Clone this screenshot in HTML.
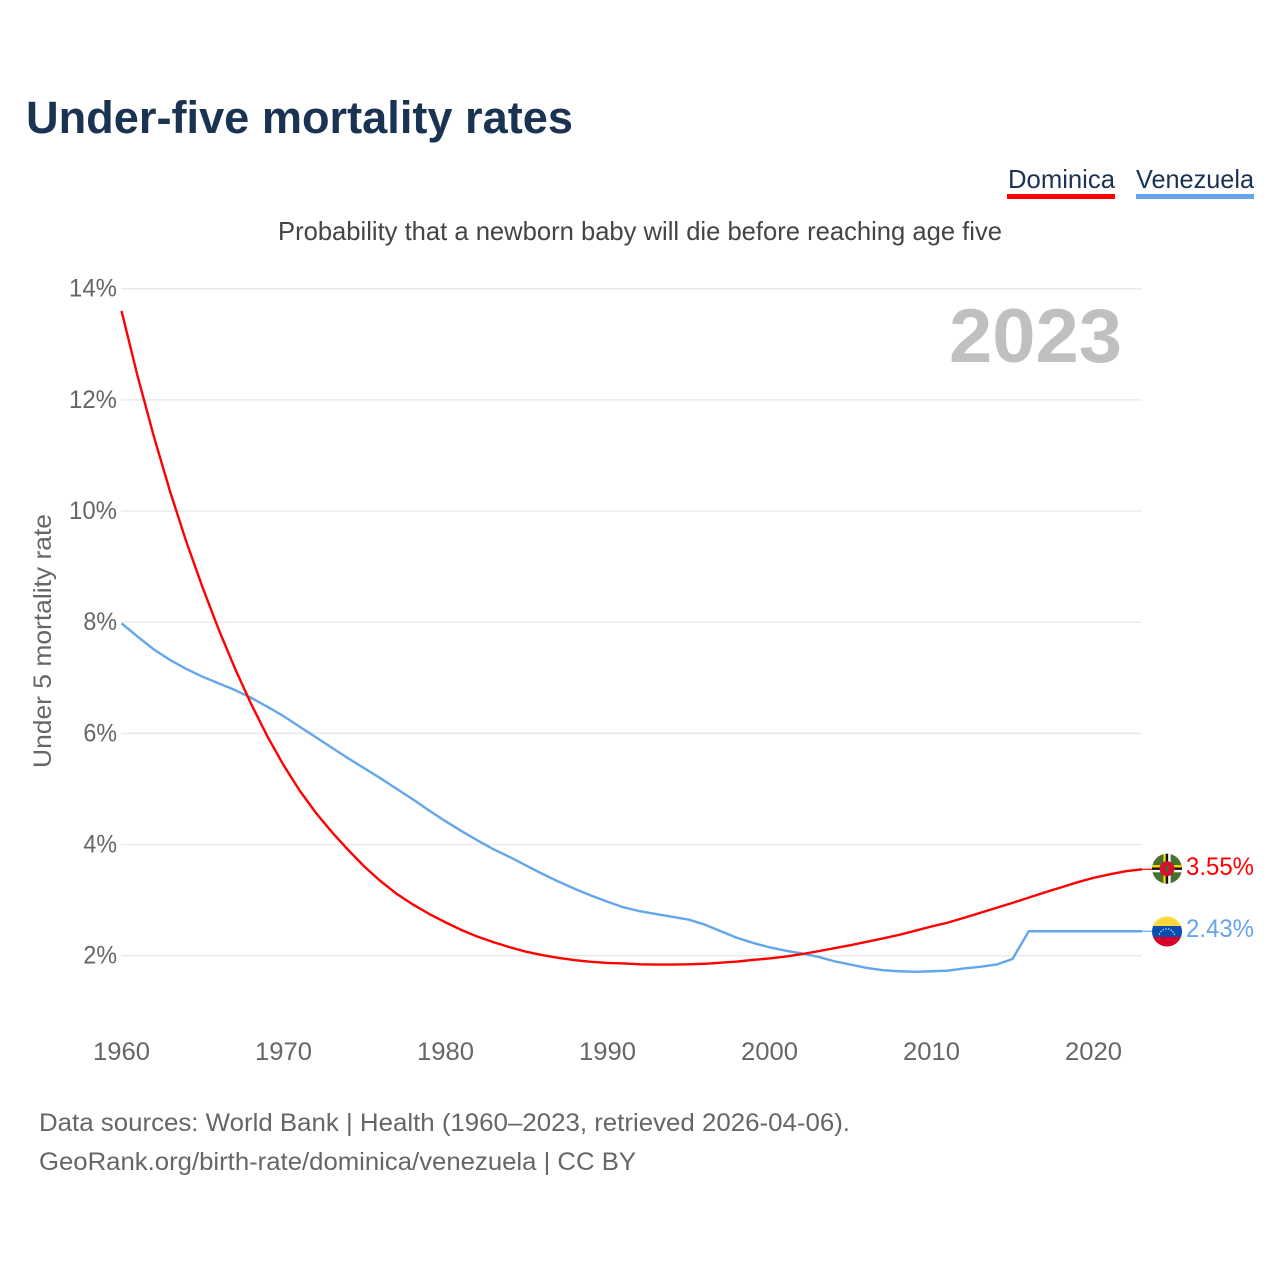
<!DOCTYPE html>
<html lang="en">
<head>
<meta charset="utf-8">
<title>Under-five mortality rates</title>
<style>
html,body{margin:0;padding:0;background:#fff;width:1280px;height:1280px;overflow:hidden}
svg{display:block}
text{font-family:"Liberation Sans",sans-serif}
</style>
</head>
<body>
<svg id="chart" xmlns="http://www.w3.org/2000/svg" width="1280" height="1280" viewBox="0 0 1280 1280">
  <defs>
    <clipPath id="flag-clip-d"><circle cx="1167" cy="868.7" r="15"/></clipPath>
    <clipPath id="flag-clip-v"><circle cx="1167" cy="931.5" r="15"/></clipPath>
  </defs>
  <rect width="1280" height="1280" fill="#fff"/>
  <text x="26" y="133" font-size="45" font-weight="700" fill="#1a3353" textLength="547" lengthAdjust="spacingAndGlyphs">Under-five mortality rates</text>
  <text x="1008" y="188" font-size="26" fill="#1a3353" textLength="107" lengthAdjust="spacingAndGlyphs">Dominica</text>
  <rect x="1007" y="194" width="108" height="5" fill="#ff0000"/>
  <text x="1136" y="188" font-size="26" fill="#1a3353" textLength="118" lengthAdjust="spacingAndGlyphs">Venezuela</text>
  <rect x="1136" y="194" width="118" height="5" fill="#63a6ec"/>
  <text x="278" y="240" font-size="26" fill="#444" textLength="724" lengthAdjust="spacingAndGlyphs">Probability that a newborn baby will die before reaching age five</text>
  <g id="grid"></g>
  <g id="y-ticks"></g>
  <g id="x-ticks"></g>
  <text x="949" y="362" font-size="76" font-weight="700" fill="#c0c0c0" textLength="173" lengthAdjust="spacingAndGlyphs">2023</text>
  <text transform="translate(51,768) rotate(-90)" font-size="25" fill="#666" textLength="254" lengthAdjust="spacingAndGlyphs">Under 5 mortality rate</text>
  <g id="series"></g>
  <g clip-path="url(#flag-clip-d)">
    <rect x="1150" y="852" width="34" height="34" fill="#48702f"/>
    <rect x="1163.4" y="852" width="2.4" height="34" fill="#f5d90a"/>
    <rect x="1165.8" y="852" width="2.4" height="34" fill="#111"/>
    <rect x="1168.2" y="852" width="2.4" height="34" fill="#fff"/>
    <rect x="1150" y="865.1" width="34" height="2.4" fill="#f5d90a"/>
    <rect x="1150" y="867.5" width="34" height="2.4" fill="#111"/>
    <rect x="1150" y="869.9" width="34" height="2.4" fill="#fff"/>
    <circle cx="1167" cy="868.7" r="7.5" fill="#d3122e"/>
    <ellipse cx="1167" cy="868.7" rx="1.4" ry="3.2" fill="#3d6b2a"/>
  </g>
  <g clip-path="url(#flag-clip-v)">
    <rect x="1150" y="915" width="34" height="11" fill="#ffd83d"/>
    <rect x="1150" y="926" width="34" height="11" fill="#0a4fb0"/>
    <rect x="1150" y="937" width="34" height="11" fill="#d8002a"/>
    <g fill="#dfe8f7">
      <circle cx="1159.5" cy="934" r=".7"/><circle cx="1161" cy="931.5" r=".7"/><circle cx="1163.3" cy="929.8" r=".7"/>
      <circle cx="1166" cy="929" r=".7"/><circle cx="1168.8" cy="929" r=".7"/><circle cx="1171.2" cy="930.2" r=".7"/>
      <circle cx="1173" cy="932" r=".7"/><circle cx="1174.4" cy="934.3" r=".7"/>
    </g>
  </g>
  <g id="end-labels"></g>
  <text x="39" y="1131" font-size="25" fill="#666" textLength="811" lengthAdjust="spacingAndGlyphs">Data sources: World Bank | Health (1960–2023, retrieved 2026-04-06).</text>
  <text x="39" y="1170" font-size="25" fill="#666" textLength="597" lengthAdjust="spacingAndGlyphs">GeoRank.org/birth-rate/dominica/venezuela | CC BY</text>
</svg>
<script>
const startYear = 1960;
const dominicaValues = [13.6,12.42,11.34,10.35,9.45,8.63,7.87,7.17,6.53,5.95,5.43,4.97,4.57,4.22,3.9,3.6,3.34,3.11,2.92,2.75,2.6,2.46,2.34,2.24,2.15,2.07,2.01,1.96,1.92,1.89,1.87,1.86,1.845,1.84,1.84,1.845,1.855,1.875,1.895,1.925,1.95,1.985,2.03,2.08,2.135,2.19,2.25,2.31,2.375,2.45,2.525,2.595,2.68,2.77,2.86,2.95,3.045,3.14,3.23,3.32,3.40,3.465,3.52,3.555];
const venezuelaValues = [7.98,7.74,7.51,7.32,7.16,7.02,6.9,6.78,6.64,6.48,6.31,6.12,5.93,5.74,5.55,5.37,5.19,5.0,4.81,4.61,4.42,4.24,4.07,3.91,3.77,3.62,3.47,3.33,3.2,3.08,2.97,2.87,2.8,2.75,2.7,2.65,2.56,2.44,2.32,2.23,2.15,2.09,2.04,1.98,1.9,1.84,1.78,1.74,1.72,1.71,1.72,1.73,1.77,1.8,1.84,1.94,2.44,2.44,2.44,2.44,2.44,2.44,2.44,2.44];
const yTickValues = [2,4,6,8,10,12,14];
const xTickValues = [1960,1970,1980,1990,2000,2010,2020];
const endLabelTexts = ['3.55%','2.43%'];

const NS = 'http://www.w3.org/2000/svg';
function xScale(year){ return 121.5 + (year - 1960) * 16.2; }
function yScale(v){ return 955.7 - (v - 2) * 55.58; }
function make(tag, parentId, attrs, text){
  const el = document.createElementNS(NS, tag);
  for (const k in attrs) el.setAttribute(k, attrs[k]);
  if (text !== undefined) el.textContent = text;
  document.getElementById(parentId).appendChild(el);
  return el;
}

yTickValues.forEach(function(v){
  const line = make('line','grid',{x1:121,x2:1141.5,y1:yScale(v),y2:yScale(v),stroke:'#e9e9e9','stroke-width':1.4});
  
  
  const label = v + '%';
  const width = 14.4 * String(v).length + 19.2;
  const t = make('text','y-ticks',{x:117 - width,y:yScale(v) + 8,'font-size':25,fill:'#666',textLength:width,lengthAdjust:'spacingAndGlyphs'},label);
  
  
});

xTickValues.forEach(function(y){
  const t = make('text','x-ticks',{x:xScale(y) - 28.5,y:1060,'font-size':25,fill:'#666',textLength:57,lengthAdjust:'spacingAndGlyphs'},String(y));
  
  
});

function drawSeries(values, color, name){
  const pts = values.map(function(v,i){ return xScale(startYear + i).toFixed(2) + ',' + yScale(v).toFixed(2); }).join(' ');
  const line = make('polyline','series',{points:pts,fill:'none',stroke:color,'stroke-width':2.4,'stroke-linejoin':'round'});
  
  
  const lastY = yScale(values[values.length - 1]);
  const lead = make('line','series',{x1:xScale(startYear + values.length - 1),x2:1153,y1:lastY,y2:lastY,stroke:color,'stroke-width':1.2});
  
  
}
drawSeries(venezuelaValues, '#63a6ec', 'venezuela');
drawSeries(dominicaValues, '#ff0000', 'dominica');

const dLabel = make('text','end-labels',{x:1186,y:875,'font-size':25,fill:'#ff0000',textLength:68,lengthAdjust:'spacingAndGlyphs'},endLabelTexts[0]);


const vLabel = make('text','end-labels',{x:1186,y:937,'font-size':25,fill:'#63a6ec',textLength:68,lengthAdjust:'spacingAndGlyphs'},endLabelTexts[1]);


</script>
</body>
</html>
